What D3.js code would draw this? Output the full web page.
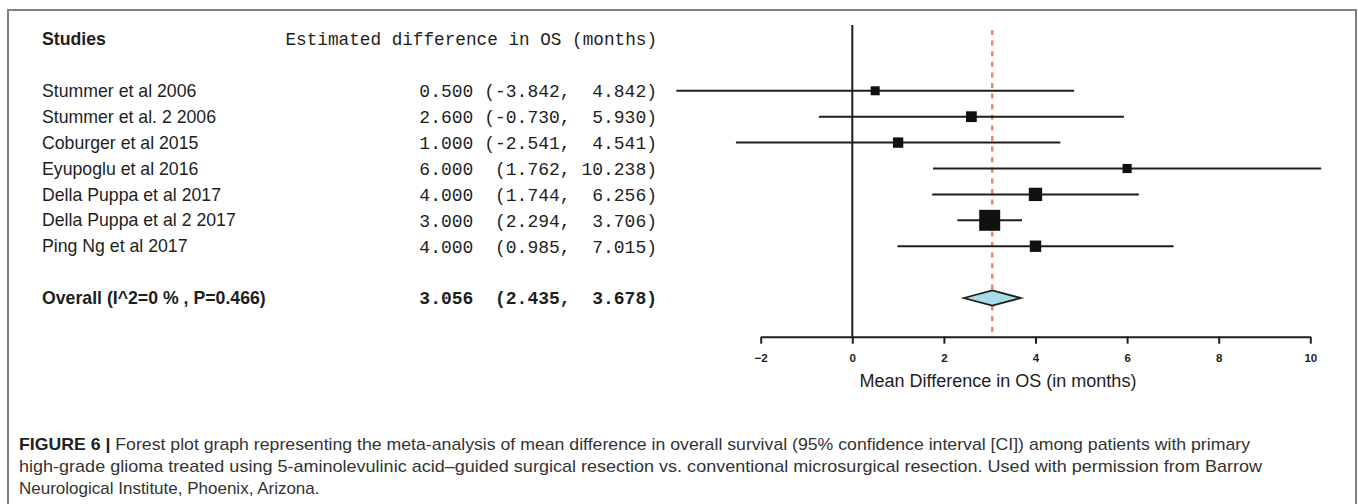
<!DOCTYPE html>
<html>
<head>
<meta charset="utf-8">
<script src="https://cdn.jsdelivr.net/npm/d3@7"></script>
<style>
  html, body { margin: 0; padding: 0; background: #ffffff; }
  svg { display: block; }
</style>
</head>
<body>
<svg id="chart" width="1358" height="504"></svg>
<script>
// ---------------- data ----------------
const studies = [
  "Stummer et al 2006",
  "Stummer et al. 2 2006",
  "Coburger et al 2015",
  "Eyupoglu et al 2016",
  "Della Puppa et al 2017",
  "Della Puppa et al 2 2017",
  "Ping Ng et al 2017"
];
const estimates = [0.500, 2.600, 1.000, 6.000, 4.000, 3.000, 4.000];
const lowerCI   = [-3.842, -0.730, -2.541, 1.762, 1.744, 2.294, 0.985];
const upperCI   = [4.842, 5.930, 4.541, 10.238, 6.256, 3.706, 7.015];

const overallLabel = "Overall (I^2=0 % , P=0.466)";
const overallValues = [3.056, 2.435, 3.678]; // estimate, lower, upper

const headerStudies = "Studies";
const headerEstimate = "Estimated difference in OS (months)";
const xTicks = [-2, 0, 2, 4, 6, 8, 10];
const xTitle = "Mean Difference in OS (in months)";

const captionBold = "FIGURE 6 |";
const captionLines = [
  " Forest plot graph representing the meta-analysis of mean difference in overall survival (95% confidence interval [CI]) among patients with primary",
  "high-grade glioma treated using 5-aminolevulinic acid–guided surgical resection vs. conventional microsurgical resection. Used with permission from Barrow",
  "Neurological Institute, Phoenix, Arizona."
];

// ---------------- drawing ----------------
const svg = d3.select("#chart");
const ink = "#1e1e1e";

// frame
svg.append("path")
  .attr("d", "M8,520 L8,10 L1356,10 L1356,520")
  .attr("fill", "none")
  .attr("stroke", "#808080")
  .attr("stroke-width", 2);

const x = d3.scaleLinear().domain([-2, 10]).range([760.7, 1310.3]);
const y = d3.scaleLinear().domain([2, 10]).range([90.8, 298]);
const axisY = 336.7;

// format helpers for the estimate column
const f3 = d3.format(".3f");
const minus = s => s.replace("−", "-");
function padLeft(s, n) { while (s.length < n) s = " " + s; return s; }
function ciText(est, lo, hi) {
  const s = minus(f3(est)) + " " + padLeft("(" + minus(f3(lo)), 7) + ", " + padLeft(minus(f3(hi)), 6) + ")";
  return s.replace(/ /g, "\u00A0");
}

const sansFont = "'Liberation Sans', Arial, Helvetica, sans-serif";
const monoFont = "'Liberation Mono', 'Courier New', monospace";
const nameX = 42;
const monoRight = 657;
const nameSize = 17.7;

// headers
svg.append("text")
  .attr("x", nameX).attr("y", y(0)).attr("dy", "0.35em")
  .attr("font-family", sansFont).attr("font-size", nameSize).attr("font-weight", "bold")
  .attr("fill", ink).text(headerStudies);
svg.append("text")
  .attr("x", monoRight).attr("y", y(0)).attr("dy", "0.35em")
  .attr("text-anchor", "end")
  .attr("font-family", monoFont).attr("font-size", 17.7)
  .attr("fill", ink).text(headerEstimate.replace(/ /g, "\u00A0"));

const rows = studies.map((s, i) => ({
  name: s, est: estimates[i], lo: lowerCI[i], hi: upperCI[i], row: i + 2
}));
// inverse-variance weights derived from the CIs
rows.forEach(d => { const se = (d.hi - d.lo) / 3.92; d.w = 1 / (se * se); });
const boxSize = d3.scaleLog().domain(d3.extent(rows, d => d.w)).range([9, 21]);

// study names
svg.append("g").selectAll("text").data(rows).join("text")
  .attr("x", nameX).attr("y", d => y(d.row)).attr("dy", "0.35em")
  .attr("font-family", sansFont).attr("font-size", nameSize)
  .attr("fill", ink).text(d => d.name);

// estimate column
svg.append("g").selectAll("text").data(rows).join("text")
  .attr("x", monoRight).attr("y", d => y(d.row)).attr("dy", "0.35em")
  .attr("text-anchor", "end")
  .attr("font-family", monoFont).attr("font-size", 18)
  .attr("fill", ink).text(d => ciText(d.est, d.lo, d.hi));

// overall row text
svg.append("text")
  .attr("x", nameX).attr("y", y(10)).attr("dy", "0.35em")
  .attr("font-family", sansFont).attr("font-size", nameSize).attr("font-weight", "bold")
  .attr("fill", ink).text(overallLabel);
svg.append("text")
  .attr("x", monoRight).attr("y", y(10)).attr("dy", "0.35em")
  .attr("text-anchor", "end")
  .attr("font-family", monoFont).attr("font-size", 18).attr("font-weight", "bold")
  .attr("fill", ink).text(ciText(overallValues[0], overallValues[1], overallValues[2]));

// zero line
svg.append("line")
  .attr("x1", x(0)).attr("x2", x(0))
  .attr("y1", 25).attr("y2", axisY)
  .attr("stroke", ink).attr("stroke-width", 2);

// overall estimate dashed line
svg.append("line")
  .attr("x1", x(overallValues[0])).attr("x2", x(overallValues[0]))
  .attr("y1", 30).attr("y2", axisY - 1)
  .attr("stroke", "#f4845f").attr("stroke-width", 2.5)
  .attr("stroke-dasharray", "5,5.6");

// CI lines
svg.append("g").selectAll("line").data(rows).join("line")
  .attr("x1", d => x(d.lo)).attr("x2", d => x(d.hi))
  .attr("y1", d => y(d.row)).attr("y2", d => y(d.row))
  .attr("stroke", ink).attr("stroke-width", 2);

// boxes
svg.append("g").selectAll("rect").data(rows).join("rect")
  .attr("x", d => x(d.est) - boxSize(d.w) / 2)
  .attr("y", d => y(d.row) - boxSize(d.w) / 2)
  .attr("width", d => boxSize(d.w))
  .attr("height", d => boxSize(d.w))
  .attr("fill", "#111");

// diamond
const dy = y(10), dh = 7.6;
svg.append("path")
  .attr("d", `M${x(overallValues[1])},${dy} L${x(overallValues[0])},${dy - dh} L${x(overallValues[2])},${dy} L${x(overallValues[0])},${dy + dh} Z`)
  .attr("fill", "#a9dbea")
  .attr("stroke", ink).attr("stroke-width", 1.8);

// axis
const axis = d3.axisBottom(x).tickValues(xTicks).tickSize(7).tickSizeOuter(0).tickPadding(10)
  .tickFormat(d3.format("d"));
const gAxis = svg.append("g").attr("transform", `translate(0,${axisY})`).call(axis);
gAxis.select(".domain").attr("stroke", ink).attr("stroke-width", 2);
gAxis.selectAll(".tick line").attr("stroke", ink).attr("stroke-width", 2);
gAxis.selectAll(".tick text")
  .attr("font-family", sansFont).attr("font-size", 11.5).attr("font-weight", "bold")
  .attr("fill", ink);

svg.append("text")
  .attr("x", 998).attr("y", 380.5).attr("dy", "0.35em")
  .attr("text-anchor", "middle")
  .attr("font-family", sansFont).attr("font-size", 18)
  .attr("fill", ink).text(xTitle);

// caption
const capX = 19;
const capBase = [450, 472, 494];
const capWidths = [1231, 1243, null];
const cap = svg.append("g")
  .attr("font-family", sansFont).attr("font-size", 17).attr("fill", "#333");
captionLines.forEach((line, i) => {
  const t = cap.append("text").attr("x", capX).attr("y", capBase[i]);
  if (i === 0) {
    t.append("tspan").attr("font-weight", "bold").attr("fill", "#222").text(captionBold);
  }
  t.append("tspan").text(line);
  if (capWidths[i]) {
    t.attr("textLength", capWidths[i]).attr("lengthAdjust", "spacingAndGlyphs");
  }
});
</script>
</body>
</html>
